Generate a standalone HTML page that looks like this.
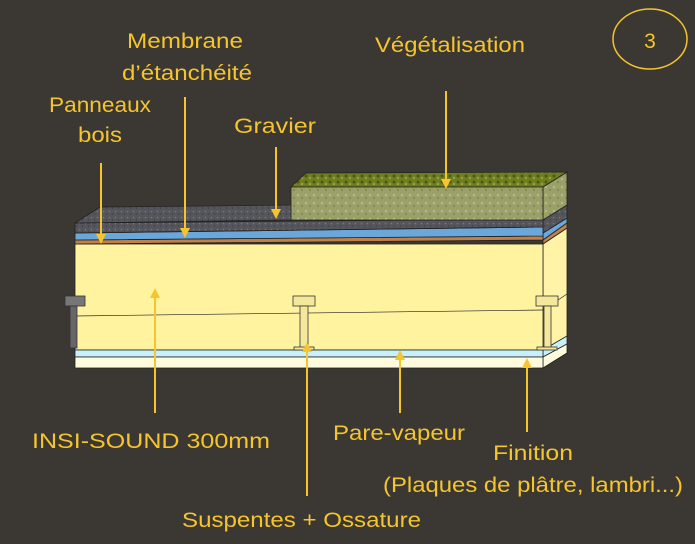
<!DOCTYPE html>
<html><head><meta charset="utf-8"><style>
html,body{margin:0;padding:0;background:#3b3833}
svg{display:block}
text{font-family:"Liberation Sans",sans-serif;fill:#f6c42c;font-size:21px}
</style></head><body>
<svg width="695" height="544" viewBox="0 0 695 544" xmlns="http://www.w3.org/2000/svg">
<defs>
<pattern id="grav" width="6" height="6" patternUnits="userSpaceOnUse"><rect width="6" height="6" fill="#55555c"/><circle cx="1.5" cy="1.5" r="0.8" fill="#8a7a50"/><circle cx="4.5" cy="4" r="0.7" fill="#3c3c44"/></pattern>
<pattern id="veg" width="8" height="8" patternUnits="userSpaceOnUse"><rect width="8" height="8" fill="#9aa068"/><circle cx="2" cy="3" r="1.2" fill="#b8b890"/><circle cx="6" cy="6" r="1" fill="#7e8650"/></pattern>
<pattern id="vegt" width="8" height="6" patternUnits="userSpaceOnUse"><rect width="8" height="6" fill="#6f7e1e"/><circle cx="2" cy="2" r="1.5" fill="#4c5a14"/><circle cx="6" cy="4" r="1.2" fill="#9aa23c"/></pattern>
</defs>
<g stroke="#222" stroke-width="0.8">
<polygon points="543,244 567,228 567,353 543,368" fill="#fff3a8"/>
<polygon points="543,350 567,336 567,344 543,357" fill="#c8f0fa"/>
<polygon points="543,357 567,344 567,353 543,368" fill="#fffbdc"/>
<polygon points="543,233 567,218 567,223 543,240" fill="#6aa8dc"/>
<polygon points="543,240 567,223 567,228 543,244" fill="#c08048"/>
<polygon points="543,220 567,205 567,218 543,233" fill="url(#grav)"/>
<polygon points="543,187 567,172 567,205 543,220" fill="url(#veg)"/>
<rect x="75" y="244" width="468" height="106" fill="#fff3a0"/>
<rect x="75" y="350" width="468" height="7" fill="#c8f0fa"/>
<rect x="75" y="357" width="468" height="11" fill="#fffbdc"/>
<polygon points="75,240 543,236 543,240 75,244" fill="#c08048"/>
<polygon points="75,233 543,227 543,236 75,240" fill="#6aa8dc"/>
<polygon points="75,223 543,219 543,227 75,233" fill="url(#grav)"/>
<polygon points="75,223 100,207 306,205 291,220" fill="url(#grav)"/>
<polygon points="291,187 306,173 567,172 543,187" fill="url(#vegt)"/>
<rect x="291" y="187" width="252" height="33" fill="url(#veg)"/>
<line x1="75" y1="316" x2="543" y2="310" stroke-width="0.7"/>
<line x1="543" y1="310" x2="567" y2="294" stroke-width="0.7"/>
<g fill="#f6e89a" stroke="#333">
<rect x="65" y="296" width="20" height="10" fill="#777"/><rect x="70" y="306" width="7" height="42" fill="#666"/>
<rect x="293" y="296" width="22" height="10"/><rect x="300" y="306" width="8" height="42"/><rect x="294" y="347" width="20" height="3"/>
<rect x="536" y="296" width="22" height="10"/><rect x="544" y="306" width="7" height="42"/><rect x="537" y="347" width="20" height="3"/>
</g>
</g>
<g stroke="#f6c42c" stroke-width="2" fill="#f6c42c">
<line x1="101" y1="163" x2="101" y2="238"/><polygon points="96,234 106,234 101,244" stroke="none"/>
<line x1="185" y1="97" x2="185" y2="232"/><polygon points="180,228 190,228 185,238" stroke="none"/>
<line x1="276" y1="147" x2="276" y2="213"/><polygon points="271,209 281,209 276,219" stroke="none"/>
<line x1="446" y1="91" x2="446" y2="183"/><polygon points="441,179 451,179 446,189" stroke="none"/>
<line x1="155" y1="413" x2="155" y2="294"/><polygon points="150,298 160,298 155,288" stroke="none"/>
<line x1="307" y1="496" x2="307" y2="348"/><polygon points="302,352 312,352 307,342" stroke="none"/>
<line x1="400" y1="413" x2="400" y2="356"/><polygon points="395,360 405,360 400,350" stroke="none"/>
<line x1="527" y1="432" x2="527" y2="364"/><polygon points="522,368 532,368 527,358" stroke="none"/>
</g>
<ellipse cx="650" cy="39" rx="37" ry="30" fill="none" stroke="#f6c42c" stroke-width="1.5"/>
<text x="650" y="48" text-anchor="middle" font-size="24">3</text>
<g font-size="22">
<text x="127" y="48" textLength="116" lengthAdjust="spacingAndGlyphs">Membrane</text>
<text x="122" y="80" textLength="130" lengthAdjust="spacingAndGlyphs">d’étanchéité</text>
<text x="375" y="52" textLength="150" lengthAdjust="spacingAndGlyphs">Végétalisation</text>
<text x="49" y="112" textLength="102" lengthAdjust="spacingAndGlyphs">Panneaux</text>
<text x="78" y="142" textLength="44" lengthAdjust="spacingAndGlyphs">bois</text>
<text x="234" y="133" textLength="82" lengthAdjust="spacingAndGlyphs">Gravier</text>
<text x="32" y="448" textLength="238" lengthAdjust="spacingAndGlyphs">INSI-SOUND 300mm</text>
<text x="333" y="440" textLength="132" lengthAdjust="spacingAndGlyphs">Pare-vapeur</text>
<text x="493" y="460" textLength="80" lengthAdjust="spacingAndGlyphs">Finition</text>
<text x="383" y="492" textLength="300" lengthAdjust="spacingAndGlyphs">(Plaques de plâtre, lambri...)</text>
<text x="182" y="527" textLength="239" lengthAdjust="spacingAndGlyphs">Suspentes + Ossature</text>
</g>
</svg>
</body></html>
